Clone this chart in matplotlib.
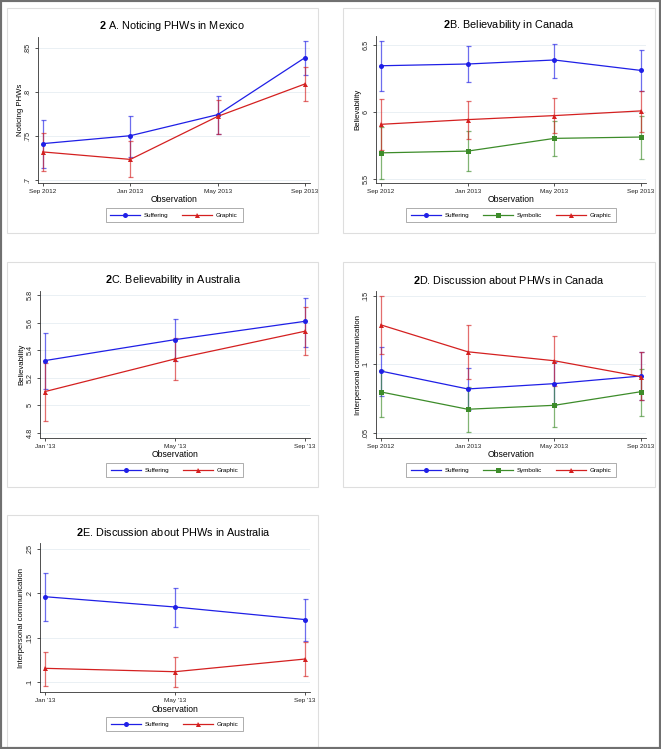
import matplotlib
matplotlib.use('Agg')
import matplotlib.pyplot as plt
from matplotlib.patches import Rectangle

plt.rcParams['font.family'] = ['Liberation Sans', 'DejaVu Sans']
plt.rcParams['mathtext.fontset'] = 'custom'
plt.rcParams['mathtext.rm'] = 'Liberation Sans'
plt.rcParams['mathtext.bf'] = 'Liberation Sans:bold'

# ---- data ----
waves4 = ['Sep 2012', 'Jan 2013', 'May 2013', 'Sep 2013']
waves3 = ["Jan '13", "May '13", "Sep '13"]

# 2A Noticing PHWs in Mexico
a_suff = [0.741, 0.750, 0.774, 0.839]
a_suff_lo = [0.7135, 0.726, 0.752, 0.819]
a_suff_hi = [0.768, 0.772, 0.795, 0.858]
a_graph = [0.7315, 0.723, 0.772, 0.809]
a_graph_lo = [0.710, 0.703, 0.752, 0.790]
a_graph_hi = [0.753, 0.744, 0.791, 0.828]

# 2B Believability in Canada
b_suff = [6.342, 6.355, 6.385, 6.307]
b_suff_lo = [6.155, 6.217, 6.252, 6.155]
b_suff_hi = [6.525, 6.490, 6.507, 6.457]
b_symb = [5.692, 5.705, 5.800, 5.810]
b_symb_lo = [5.500, 5.557, 5.665, 5.645]
b_symb_hi = [5.885, 5.852, 5.932, 5.970]
b_graph = [5.905, 5.940, 5.970, 6.005]
b_graph_lo = [5.712, 5.797, 5.840, 5.850]
b_graph_hi = [6.097, 6.082, 6.100, 6.155]

# 2C Believability in Australia
c_suff = [5.326, 5.478, 5.611]
c_suff_lo = [5.123, 5.326, 5.428]
c_suff_hi = [5.529, 5.626, 5.783]
c_graph = [5.101, 5.338, 5.539]
c_graph_lo = [4.890, 5.188, 5.365]
c_graph_hi = [5.309, 5.487, 5.713]

# 2D Discussion about PHWs in Canada
d_suff = [0.0951, 0.0820, 0.0859, 0.0915]
d_suff_lo = [0.0771, 0.0663, 0.0700, 0.0741]
d_suff_hi = [0.1129, 0.0976, 0.1017, 0.1088]
d_symb = [0.0798, 0.0671, 0.0700, 0.0800]
d_symb_lo = [0.0617, 0.0505, 0.0539, 0.0624]
d_symb_hi = [0.0956, 0.0834, 0.0863, 0.0968]
d_graph = [0.1290, 0.1093, 0.1027, 0.0910]
d_graph_lo = [0.1073, 0.0893, 0.0844, 0.0737]
d_graph_hi = [0.1500, 0.1293, 0.1210, 0.1088]

# 2E Discussion about PHWs in Australia
e_suff = [0.1962, 0.1846, 0.1704]
e_suff_lo = [0.1692, 0.1617, 0.1462]
e_suff_hi = [0.2232, 0.2064, 0.1936]
e_graph = [0.1154, 0.1116, 0.1259]
e_graph_lo = [0.0955, 0.0948, 0.1068]
e_graph_hi = [0.1341, 0.1280, 0.1455]

BLUE = '#1f1fe6'
RED = '#d42020'
GREEN = '#3d8c2a'

W, H = 661, 749
fig = plt.figure(figsize=(W / 100, H / 100), dpi=100)


def fx(px):
    return px / W


def fy(py):
    return 1 - py / H


def panel(box, axbox, title, xlabels, series, ylim, yticks, ytlabels, ylabel):
    l, t, r, b = box
    fig.patches.append(Rectangle((fx(l), fy(b)), fx(r - l), (b - t) / H,
                                 transform=fig.transFigure, fill=False,
                                 edgecolor='#dedede', lw=0.8))
    al, at, ar, ab = axbox
    ax = fig.add_axes([fx(al), fy(ab), fx(ar - al), (ab - at) / H])
    n = len(xlabels)
    x = list(range(n))
    for name, vals, lo, hi, col, mk in series:
        yerr = [[v - a for v, a in zip(vals, lo)], [c - v for v, c in zip(vals, hi)]]
        ax.errorbar(x, vals, yerr=yerr, fmt='none', ecolor=col, alpha=0.65,
                    elinewidth=0.9, capsize=1.8, capthick=0.9, zorder=2)
        ax.plot(x, vals, color=col, lw=0.9, marker=mk, markersize=3.6,
                markeredgewidth=0, label=name, zorder=3)
    m = 5 / ((ar - al) - 10) * (n - 1)
    ax.set_xlim(-m, n - 1 + m)
    ax.set_ylim(*ylim)
    ax.set_xticks(x)
    ax.set_xticklabels(xlabels, fontsize=4.6)
    ax.set_yticks(yticks)
    ax.set_yticklabels(ytlabels, fontsize=5.2, rotation=90, va='center')
    ax.tick_params(axis='both', length=2.5, width=0.6, color='#333333',
                   labelcolor='#222222')
    ax.tick_params(axis='x', pad=1.5)
    ax.tick_params(axis='y', pad=2)
    for s in ['top', 'right']:
        ax.spines[s].set_visible(False)
    for s in ['left', 'bottom']:
        ax.spines[s].set_linewidth(0.6)
        ax.spines[s].set_color('#333333')
    ax.yaxis.grid(True, color='#eaf0f4', lw=0.7)
    ax.set_axisbelow(True)

    cx = (al + ar) / 2
    fig.text(fx(cx - 2), fy(at - 11), title, ha='center', va='center', fontsize=7.8)
    fig.text(fx(cx), fy(ab + 17), 'Observation', ha='center', va='center', fontsize=6.2)
    fig.text(fx(al - 18), fy((at + ab) / 2), ylabel, ha='center', va='center',
             rotation=90, fontsize=5.6)
    leg = ax.legend(loc='center', bbox_to_anchor=(fx(cx), fy(ab + 32)),
                    bbox_transform=fig.transFigure, ncol=len(series), fontsize=4.5,
                    frameon=True, fancybox=False, handlelength=4.8,
                    columnspacing=2.2, handletextpad=0.6, borderpad=0.75,
                    borderaxespad=0)
    leg.get_frame().set_edgecolor('#888888')
    leg.get_frame().set_linewidth(0.6)
    return ax


panel((7, 8, 318, 233), (38, 37, 310, 183), r'$\mathbf{2}$ A. Noticing PHWs in Mexico',
      waves4,
      [('Suffering', a_suff, a_suff_lo, a_suff_hi, BLUE, 'o'),
       ('Graphic', a_graph, a_graph_lo, a_graph_hi, RED, '^')],
      (0.6961, 0.8625), [0.7, 0.75, 0.8, 0.85], ['.7', '.75', '.8', '.85'],
      'Noticing PHWs')

panel((343, 8, 655, 233), (376, 36, 646, 183), r'$\mathbf{2}$B. Believability in Canada',
      waves4,
      [('Suffering', b_suff, b_suff_lo, b_suff_hi, BLUE, 'o'),
       ('Symbolic', b_symb, b_symb_lo, b_symb_hi, GREEN, 's'),
       ('Graphic', b_graph, b_graph_lo, b_graph_hi, RED, '^')],
      (5.467, 6.564), [5.5, 6, 6.5], ['5.5', '6', '6.5'],
      'Believability')

panel((7, 262, 318, 487), (40, 291, 310, 438), r'$\mathbf{2}$C. Believability in Australia',
      waves3,
      [('Suffering', c_suff, c_suff_lo, c_suff_hi, BLUE, 'o'),
       ('Graphic', c_graph, c_graph_lo, c_graph_hi, RED, '^')],
      (4.764, 5.831), [4.8, 5.0, 5.2, 5.4, 5.6, 5.8], ['4.8', '5', '5.2', '5.4', '5.6', '5.8'],
      'Believability')

panel((343, 262, 655, 487), (376, 291, 646, 438), r'$\mathbf{2}$D. Discussion about PHWs in Canada',
      waves4,
      [('Suffering', d_suff, d_suff_lo, d_suff_hi, BLUE, 'o'),
       ('Symbolic', d_symb, d_symb_lo, d_symb_hi, GREEN, 's'),
       ('Graphic', d_graph, d_graph_lo, d_graph_hi, RED, '^')],
      (0.046, 0.1539), [0.05, 0.1, 0.15], ['.05', '.1', '.15'],
      'Interpersonal communication')

panel((7, 515, 318, 747), (40, 543, 310, 692), r'$\mathbf{2}$E. Discussion about PHWs in Australia',
      waves3,
      [('Suffering', e_suff, e_suff_lo, e_suff_hi, BLUE, 'o'),
       ('Graphic', e_graph, e_graph_lo, e_graph_hi, RED, '^')],
      (0.0887, 0.2568), [0.1, 0.15, 0.2, 0.25], ['.1', '.15', '.2', '.25'],
      'Interpersonal communication')

# outer frame
fig.patches.append(Rectangle((0, 0), 1, 1, transform=fig.transFigure, fill=False,
                             edgecolor='#707070', lw=3))

fig.savefig('out.png', dpi=100)
